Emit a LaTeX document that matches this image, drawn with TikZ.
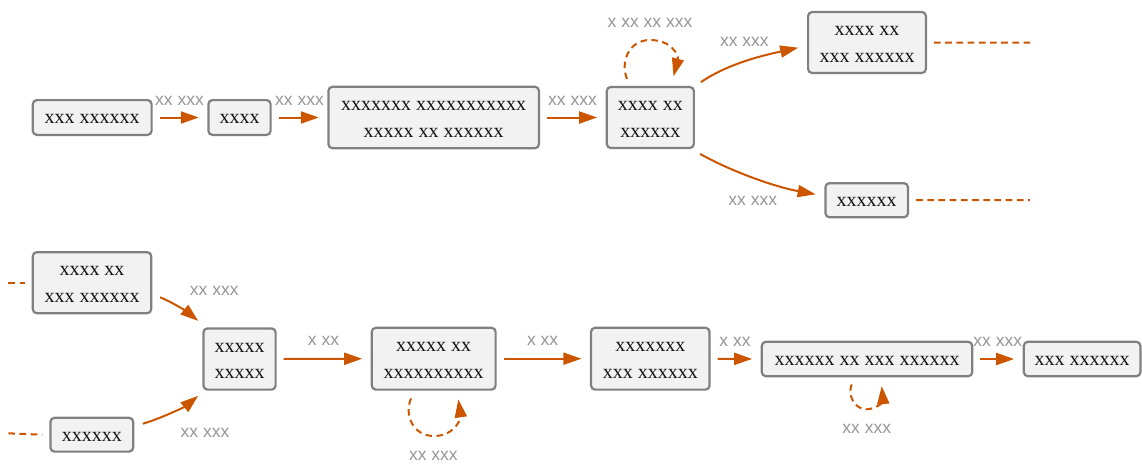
\documentclass[tikz,border=0pt]{standalone}
\usepackage{fontspec}
\setmainfont{Liberation Serif}
\newfontfamily\labfont{Liberation Sans}
\usetikzlibrary{arrows.meta}
\definecolor{edgeor}{RGB}{204,85,0}
\definecolor{boxline}{RGB}{128,128,128}
\definecolor{boxfill}{RGB}{242,242,242}
\definecolor{labgray}{RGB}{150,150,150}
\definecolor{boxtext}{RGB}{20,20,20}
\newcommand\tup[1]{\rule{0pt}{#1}}
\begin{document}
\begin{tikzpicture}[x=1pt,y=-1pt,
 box/.style={draw=boxline, fill=boxfill, line width=2.2pt, rounded corners=4pt, inner sep=0pt, align=center, text=boxtext, font=\fontsize{20}{26.7}\selectfont},
 lab/.style={inner sep=0pt, text=labgray, font=\labfont\fontsize{17.5}{20}\selectfont},
 arr/.style={draw=edgeor, line width=2pt, -{Triangle[length=18pt,width=12pt]}},
 straight/.style={arr, shorten <=7pt, shorten >=8.5pt},
 loopline/.style={arr, dash pattern=on 6.5pt off 4.5pt},
 dashline/.style={draw=edgeor, line width=2pt, dash pattern=on 6.7pt off 4.5pt}]
\useasboundingbox (0,0) rectangle (1142,463);

% nodes
\node[box, minimum width=118.8pt, minimum height=34.8pt] (A) at (92.2,117.5) {\tup{12.8pt}xxx xxxxxx};
\node[box, minimum width=62.2pt, minimum height=34.8pt] (B) at (239.5,117.5) {\tup{12.8pt}xxxx};
\node[box, minimum width=210.5pt, minimum height=61.4pt] (C) at (433.7,117.5) {\tup{13.2pt}xxxxxxx xxxxxxxxxxx\\xxxxx xx xxxxxx};
\node[box, minimum width=87.1pt, minimum height=61pt] (D) at (650.3,117.5) {\tup{13.2pt}xxxx xx\\xxxxxx};
\node[box, minimum width=117.8pt, minimum height=61pt] (E) at (867,42.5) {\tup{13.2pt}xxxx xx\\xxx xxxxxx};
\node[box, minimum width=82.5pt, minimum height=34.1pt] (F) at (866.7,200.2) {\tup{12.8pt}xxxxxx};
\node[box, minimum width=118.4pt, minimum height=61.1pt] (G) at (92,282.7) {\tup{13.2pt}xxxx xx\\xxx xxxxxx};
\node[box, minimum width=82.8pt, minimum height=33.8pt] (H) at (91.8,434.7) {\tup{12.8pt}xxxxxx};
\node[box, minimum width=72.2pt, minimum height=61.2pt] (I) at (239.5,359) {\tup{13.2pt}xxxxx\\xxxxx};
\node[box, minimum width=123.8pt, minimum height=61.8pt] (J) at (433.7,358.7) {\tup{13.2pt}xxxxx xx\\xxxxxxxxxx};
\node[box, minimum width=118.5pt, minimum height=61.8pt] (K) at (650.3,358.7) {\tup{13.2pt}xxxxxxx\\xxx xxxxxx};
\node[box, minimum width=210.4pt, minimum height=34.4pt] (L) at (867,359) {\tup{12.8pt}xxxxxx xx xxx xxxxxx};
\node[box, minimum width=116.6pt, minimum height=34.4pt] (M) at (1082.1,359) {\tup{12.8pt}xxx xxxxxx};

% free ends of dashed stubs
\coordinate (Eout) at (1030,42.7);
\coordinate (Fout) at (1030,200);
\coordinate (Gin) at (8.3,282.7);
\coordinate (Hin) at (8.3,433.3);

% straight edges
\draw[straight] (A.east) -- (B.west);
\draw[straight] (B.east) -- (C.west);
\draw[straight] (C.east) -- (D.west);
\draw[straight] (I.east) -- (J.west);
\draw[straight] (J.east) -- (K.west);
\draw[straight] (K.east) -- (L.west);
\draw[straight] (L.east) -- (M.west);

% curved edges
\draw[arr] ([xshift=6pt,yshift=3.8pt]D.north east) .. controls (729,63) and (765,55) .. ([xshift=-8.8pt,yshift=-5.2pt]E.west);
\draw[arr] ([xshift=5.1pt,yshift=-4.8pt]D.south east) .. controls (733.6,172.7) and (777.3,187.4) .. ([xshift=-8.7pt,yshift=5.9pt]F.west);
\draw[arr] ([xshift=7.8pt,yshift=-14.6pt]G.east) .. controls (173,302.4) and (187.8,312.4) .. ([xshift=-4.1pt,yshift=6.4pt]I.north west);
\draw[arr] ([xshift=8.5pt,yshift=11pt]H.east) .. controls (161,418.5) and (185.5,406.3) .. ([xshift=-4.1pt,yshift=-5.1pt]I.south west);

% self loops
\draw[loopline] ([xshift=-23.3pt,yshift=7pt]D.north) .. controls (620,62) and (629,40) .. (650,40) .. controls (671,40) and (679,55) .. ([xshift=23.2pt,yshift=9.6pt]D.north);
\draw[loopline] ([xshift=-22.7pt,yshift=-7.7pt]J.south) .. controls (404,415) and (413,436) .. (434,436) .. controls (455,436) and (461,418) .. ([xshift=24.6pt,yshift=-8.7pt]J.south);
\draw[loopline] ([xshift=-15.3pt,yshift=-7.1pt]L.south) .. controls (847,395) and (855,409.3) .. (866,409.3) .. controls (877,409.3) and (883,401) .. ([xshift=14.7pt,yshift=-8.8pt]L.south);

% dashed stubs
\draw[dashline] ([xshift=7pt]E.east) -- (Eout);
\draw[dashline] ([xshift=7pt]F.east) -- (Fout);
\draw[dashline] (Gin) -- ([xshift=-6.8pt]G.west);
\draw[dashline] (Hin) -- ([xshift=-7pt]H.west);

% edge labels
\node[lab] (lAB) at (179.5,100.7) {xx xxx};
\node[lab] (lBC) at (299.5,100.7) {xx xxx};
\node[lab] (lCD) at (572.5,100.7) {xx xxx};
\node[lab] (lDD) at (650,23.3) {x xx xx xxx};
\node[lab] (lDE) at (744.3,42.3) {xx xxx};
\node[lab] (lDF) at (752.7,201) {xx xxx};
\node[lab] (lGI) at (214.3,291) {xx xxx};
\node[lab] (lHI) at (205,432.7) {xx xxx};
\node[lab] (lIJ) at (323.5,341) {x xx};
\node[lab] (lJK) at (542.7,341) {x xx};
\node[lab] (lJJ) at (433.3,455.7) {xx xxx};
\node[lab] (lKL) at (735,341.7) {x xx};
\node[lab] (lLM) at (997.7,341.7) {xx xxx};
\node[lab] (lLL) at (866.7,429.3) {xx xxx};
\end{tikzpicture}
\end{document}
